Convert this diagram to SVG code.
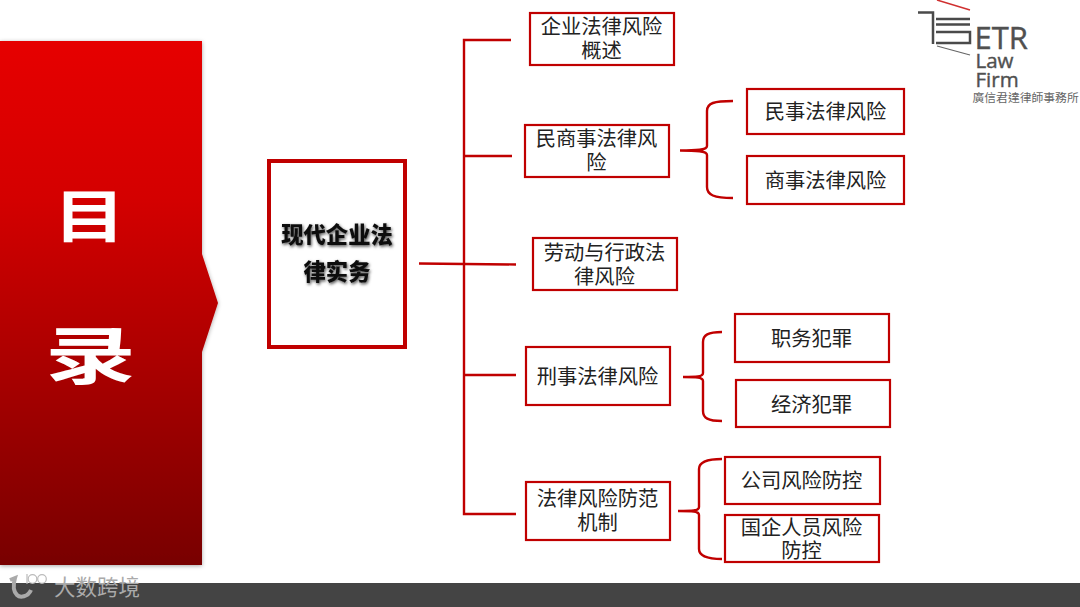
<svg xmlns="http://www.w3.org/2000/svg" width="1080" height="607" viewBox="0 0 1080 607">
<style>
.b{fill:#fff;stroke:#c00000;stroke-width:2.2}
.t{font-family:"Noto Sans CJK SC","Liberation Sans",sans-serif;font-size:20.3px;fill:#222;text-anchor:middle}
.c{fill:none;stroke:#c00000;stroke-width:2.400}
.lg{fill:none;stroke:#4a4a4a;stroke-width:2.500}
.lt{font-family:"Open Sans","Liberation Sans",sans-serif;fill:#505050;stroke:#505050;stroke-width:.4}
.h{font-family:"Noto Sans CJK SC",sans-serif;font-weight:700;fill:#fff;text-anchor:middle}
.m{font-family:"Noto Sans CJK SC",sans-serif;font-weight:900;font-size:22.300px;fill:#111;text-anchor:middle}
</style>
<defs>
<linearGradient id="g" x1="0" y1="0" x2="0" y2="1"><stop offset="0" stop-color="#e60000"/><stop offset=".3" stop-color="#d40000"/><stop offset="1" stop-color="#780000"/></linearGradient>
<filter id="s" x="-10%" y="-10%" width="120%" height="120%"><feDropShadow dx="0" dy="1" stdDeviation="2" flood-color="#000" flood-opacity=".35"/></filter>
<filter id="ts" x="-10%" y="-20%" width="120%" height="140%"><feDropShadow dx="1" dy="1.500" stdDeviation="1.500" flood-color="#000" flood-opacity=".7"/></filter>
</defs>
<rect width="1080" height="607" fill="#fff"/>
<g id="banner">
<path d="M0 41H202V254L218 303L202 352V565H0Z" fill="url(#g)" filter="url(#s)"/>
<text class="h" transform="translate(89.500 236.500) scale(1.150 .91)" font-size="62">目</text>
<text class="h" transform="translate(90.500 379) scale(1.460 1)" font-size="62">录</text>
</g>
<g id="connectors">
<path class="c" d="M511 40H464V514H516"/>
<path class="c" d="M464 156H512M419 263.500L516 264.500M464 375H516"/>
<path class="c" d="M680 150.500C698 150.500 707 150 707 146V111C707 103 714 101 733 101M680 150.500C698 150.500 707 151 707 155V187C707 195 714 198 733 198"/>
<path class="c" d="M683 377C696 377 703 377 703 373V342C703 335 708 332 722 332M683 377C696 377 703 377 703 381V411C703 418 708 421 722 421"/>
<path class="c" d="M678 511C692 511 699 511 699 507V469C699 462 706 459 722 459M678 511C692 511 699 511 699 515V549C699 556 706 559 722 559"/>
</g>
<g id="n0"><rect x="269" y="161" width="136" height="186" fill="#fff" stroke="#c00000" stroke-width="4"/>
<g filter="url(#ts)"><text class="m" x="337" y="243">现代企业法</text><text class="m" x="337" y="280">律实务</text></g></g>
<g id="n1"><rect class="b" x="530" y="13" width="144" height="52"/><text class="t" x="601.500" y="34">企业法律风险</text><text class="t" x="601.500" y="58">概述</text></g>
<g id="n2"><rect class="b" x="525" y="125" width="144" height="52"/><text class="t" x="596.500" y="146">民商事法律风</text><text class="t" x="596.500" y="170">险</text></g>
<g id="n3"><rect class="b" x="747" y="89" width="157" height="45"/><text class="t" x="825.500" y="119">民事法律风险</text></g>
<g id="n4"><rect class="b" x="747" y="156" width="157" height="48"/><text class="t" x="825.500" y="188">商事法律风险</text></g>
<g id="n5"><rect class="b" x="533" y="238" width="144" height="52"/><text class="t" x="604.500" y="260">劳动与行政法</text><text class="t" x="604.500" y="284">律风险</text></g>
<g id="n6"><rect class="b" x="526" y="347" width="144" height="58"/><text class="t" x="597.500" y="384">刑事法律风险</text></g>
<g id="n7"><rect class="b" x="735" y="314" width="154" height="48"/><text class="t" x="811.500" y="346">职务犯罪</text></g>
<g id="n8"><rect class="b" x="736" y="380" width="154" height="47"/><text class="t" x="811.500" y="412">经济犯罪</text></g>
<g id="n9"><rect class="b" x="526" y="482" width="144" height="58"/><text class="t" x="597.500" y="506">法律风险防范</text><text class="t" x="597.500" y="530">机制</text></g>
<g id="n10"><rect class="b" x="725" y="457" width="155" height="47"/><text class="t" x="801.500" y="488">公司风险防控</text></g>
<g id="n11"><rect class="b" x="725" y="515" width="154" height="47"/><text class="t" x="801.500" y="535">国企人员风险</text><text class="t" x="801.500" y="558">防控</text></g>
<g id="logo">
<path d="M937 0L970 10" fill="none" stroke="#d03030" stroke-width="1.500"/>
<path class="lg" d="M918 12.500H933V44"/>
<path class="lg" d="M936 19H970M936 24.500H970M936 32H970V43H936"/>
<path d="M937 46L970 55" fill="none" stroke="#666" stroke-width="1.200"/>
<text class="lt" x="974.500" y="48.500" font-size="31">ETR</text>
<text class="lt" x="975.500" y="68" font-size="20.500">Law</text>
<text class="lt" x="975.500" y="87" font-size="20.500">Firm</text>
<text x="972.500" y="102" font-family="Noto Sans CJK TC,sans-serif" font-size="11.800" fill="#666">廣信君達律師事務所</text>
</g>
<g id="footer">
<rect y="583" width="1080" height="24" fill="#444"/>
<path d="M10 580L15 578C13 585 13 591 17 595C20 598 28 597 31 590" fill="none" stroke="#aaa" stroke-width="4"/>
<g fill="none" stroke="#bbb" stroke-width="1.200"><circle cx="32.500" cy="579" r="4.300"/><circle cx="42" cy="579" r="4.300"/><path d="M27 574V584"/></g>
<text x="54" y="595" font-family="Noto Sans CJK SC,sans-serif" font-size="21.500" fill="#aaa">大数跨境</text>
</g>
</svg>
